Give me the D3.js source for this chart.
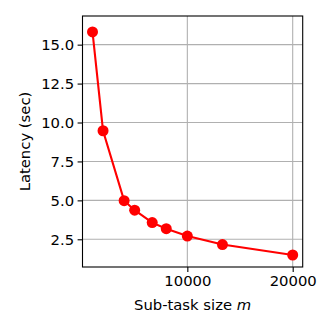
<!DOCTYPE html>
<html><head><meta charset="utf-8">
<script src="https://cdn.jsdelivr.net/npm/d3@7"></script>
<style>body{margin:0;background:#fff}svg{display:block}text{font-family:"DejaVu Sans",sans-serif}</style>
</head><body>
<svg id="c" width="332" height="332"></svg>
<script>
const subTaskSize = [1000, 2000, 4000, 5000, 6667, 8000, 10000, 13333, 20000];
const latency = [15.82, 9.47, 4.98, 4.37, 3.57, 3.18, 2.71, 2.16, 1.49];
const xTicks = [10000, 20000];
const yTicks = [2.5, 5.0, 7.5, 10.0, 12.5, 15.0];

const svg = d3.select("#c");
const L = 82.5, R = 302.7, T = 16, B = 267;
const x = d3.scaleLinear().domain([50, 20950]).range([L, R]);
const y = d3.scaleLinear().domain([0.72, 16.84]).range([B, T]);

const fs = 14.8;
// grid
svg.append("g").selectAll("line").data(xTicks).join("line")
  .attr("x1", d => x(d)).attr("x2", d => x(d)).attr("y1", T).attr("y2", B)
  .attr("stroke", "#b0b0b0").attr("stroke-width", 1.1);
svg.append("g").selectAll("line").data(yTicks).join("line")
  .attr("y1", d => y(d)).attr("y2", d => y(d)).attr("x1", L).attr("x2", R)
  .attr("stroke", "#b0b0b0").attr("stroke-width", 1.1);

// axes
const xa = svg.append("g").attr("transform", `translate(0,${B})`)
  .call(d3.axisBottom(x).tickValues(xTicks).tickFormat(d3.format("d")).tickSize(4.9).tickPadding(3.5));
const ya = svg.append("g").attr("transform", `translate(${L},0)`)
  .call(d3.axisLeft(y).tickValues(yTicks).tickFormat(d3.format(".1f")).tickSize(4.9).tickPadding(3.5));
[xa, ya].forEach(a => {
  a.select(".domain").remove();
  a.selectAll(".tick line").attr("stroke", "#000").attr("stroke-width", 1.1);
  a.selectAll(".tick text").attr("font-size", fs).attr("fill", "#000").style("font-family", '"DejaVu Sans",sans-serif');
});

// spines
svg.append("rect").attr("x", L).attr("y", T).attr("width", R - L).attr("height", B - T)
  .attr("fill", "none").attr("stroke", "#000").attr("stroke-width", 1.1);

// line + markers
const pts = subTaskSize.map((d, i) => [d, latency[i]]);
svg.append("path").datum(pts)
  .attr("d", d3.line().x(d => x(d[0])).y(d => y(d[1])))
  .attr("fill", "none").attr("stroke", "#ff0000").attr("stroke-width", 2.1);
svg.append("g").selectAll("circle").data(pts).join("circle")
  .attr("cx", d => x(d[0])).attr("cy", d => y(d[1])).attr("r", 5.5).attr("fill", "#ff0000");

// labels
const xl = svg.append("text").attr("x", (L + R) / 2).attr("y", 310.3).attr("text-anchor", "middle")
  .attr("font-size", fs).attr("fill", "#000");
xl.append("tspan").text("Sub-task size ");
xl.append("tspan").attr("font-style", "italic").text("m");
svg.append("text").attr("transform", `translate(30,${(T + B) / 2}) rotate(-90)`)
  .attr("text-anchor", "middle").attr("font-size", fs).attr("fill", "#000").text("Latency (sec)");
</script>
</body></html>
